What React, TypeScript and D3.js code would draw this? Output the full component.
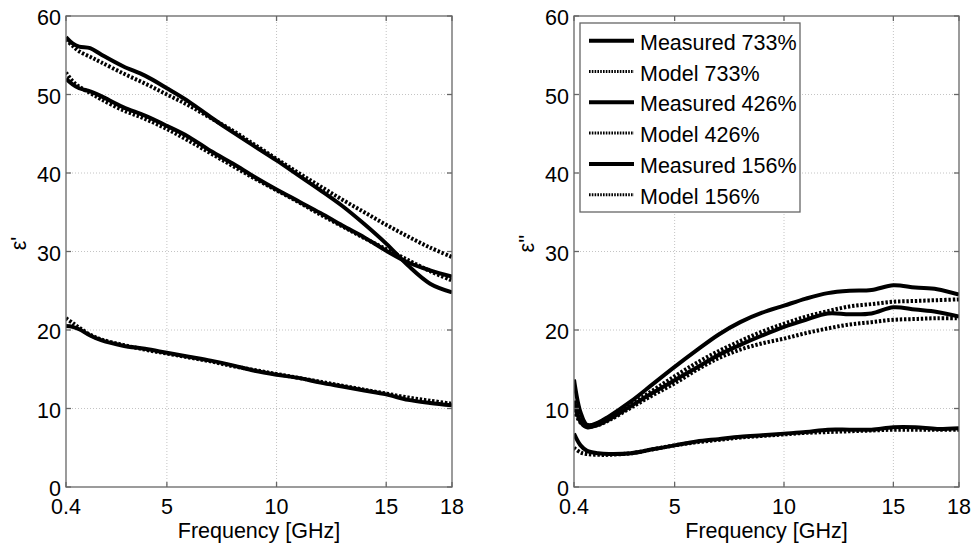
import React from 'react';
import * as d3 from 'd3';

const freqTicks = [0.4, 5, 10, 15, 18];
const yTicks = [0, 10, 20, 30, 40, 50, 60];
const freq = [0.4, 0.7, 1, 1.5, 2, 3, 4, 5, 6, 7, 8, 9, 10, 11, 12, 13, 14, 15, 16, 17, 18];

// ε' (real part)
const realMeas733 = [57.3, 56.5, 56.1, 55.9, 55.1, 53.6, 52.4, 50.8, 49.1, 47.1, 45.2, 43.4, 41.6, 39.7, 37.8, 35.8, 33.5, 31.0, 28.2, 25.9, 24.8];
const realModel733 = [57.0, 56.2, 55.5, 54.8, 54.1, 52.7, 51.4, 50.0, 48.6, 47.0, 45.4, 43.6, 41.8, 40.0, 38.3, 36.6, 35.0, 33.4, 31.9, 30.5, 29.3];
const realMeas426 = [52.0, 51.3, 50.8, 50.4, 49.8, 48.4, 47.3, 46.0, 44.6, 42.8, 41.2, 39.5, 37.9, 36.4, 34.9, 33.3, 31.8, 30.1, 28.6, 27.6, 26.8];
const realModel426 = [52.8, 51.7, 51.0, 50.2, 49.4, 48.0, 46.9, 45.6, 44.1, 42.5, 40.9, 39.3, 37.8, 36.3, 34.7, 33.2, 31.7, 30.3, 28.9, 27.5, 26.3];
const realMeas156 = [20.5, 20.4, 20.1, 19.3, 18.7, 18.0, 17.6, 17.1, 16.6, 16.1, 15.5, 14.8, 14.3, 13.9, 13.3, 12.8, 12.3, 11.8, 11.1, 10.7, 10.4];
const realModel156 = [21.5, 20.9, 20.3, 19.4, 18.8, 18.1, 17.5, 17.0, 16.5, 16.0, 15.4, 14.9, 14.4, 13.9, 13.4, 12.9, 12.4, 11.9, 11.4, 11.0, 10.6];

// ε'' (imaginary part)
const imagMeas733 = [13.7, 9.5, 7.9, 8.2, 9.0, 10.9, 13.1, 15.3, 17.4, 19.4, 21.0, 22.2, 23.1, 24.0, 24.7, 25.0, 25.1, 25.7, 25.4, 25.2, 24.5];
const imagModel733 = [10.6, 8.6, 7.9, 8.0, 8.7, 10.5, 12.3, 14.1, 15.8, 17.3, 18.6, 19.8, 20.8, 21.7, 22.4, 23.0, 23.3, 23.6, 23.7, 23.8, 23.9];
const imagMeas426 = [11.0, 8.3, 7.6, 7.9, 8.6, 10.3, 12.0, 13.6, 15.2, 16.8, 18.1, 19.3, 20.4, 21.3, 22.1, 22.0, 22.1, 22.9, 22.6, 22.3, 21.7];
const imagModel426 = [9.8, 8.2, 7.7, 7.9, 8.5, 10.1, 11.7, 13.2, 14.9, 16.4, 17.5, 18.3, 18.9, 19.6, 20.2, 20.7, 21.0, 21.3, 21.4, 21.5, 21.5];
const imagMeas156 = [6.8, 5.3, 4.6, 4.3, 4.2, 4.3, 4.8, 5.3, 5.8, 6.1, 6.4, 6.6, 6.8, 7.0, 7.3, 7.3, 7.3, 7.6, 7.6, 7.4, 7.5];
const imagModel156 = [5.0, 4.4, 4.2, 4.1, 4.1, 4.3, 4.8, 5.3, 5.7, 6.0, 6.3, 6.5, 6.7, 6.9, 7.0, 7.1, 7.2, 7.3, 7.3, 7.3, 7.3];

const legendLabels = ['Measured 733%', 'Model 733%', 'Measured 426%', 'Model 426%', 'Measured 156%', 'Model 156%'];

const FONT = '"Liberation Sans", Arial, Helvetica, sans-serif';
const FS = 21.5;
const AXIS = '#666';

type Series = { values: number[]; dotted: boolean };

function Panel({ x0, x1, y0, y1, ylabel, series, legend, id }: {
  x0: number; x1: number; y0: number; y1: number; ylabel: string; series: Series[]; legend: boolean; id: string;
}) {
  const x = d3.scaleLinear().domain([0.4, 18]).range([x0, x1]);
  const y = d3.scaleLinear().domain([0, 60]).range([y1, y0]);
  const line = d3.line<number>()
    .x((_, i) => x(freq[i]))
    .y((d) => y(d))
    .curve(d3.curveCatmullRom.alpha(0.5));
  const cx = (x0 + x1) / 2;
  const cy = (y0 + y1) / 2;
  const tl = 5;
  return (
    <g>
      <defs>
        <clipPath id={id}>
          <rect x={x0} y={y0} width={x1 - x0} height={y1 - y0} />
        </clipPath>
      </defs>
      <rect x={x0} y={y0} width={x1 - x0} height={y1 - y0} fill="#fff" />
      {freqTicks.slice(1, -1).map((t) => (
        <line key={'gx' + t} x1={x(t)} x2={x(t)} y1={y0} y2={y1} stroke="#c4c4c4" strokeWidth={1} strokeDasharray="1,2" />
      ))}
      {yTicks.slice(1, -1).map((t) => (
        <line key={'gy' + t} x1={x0} x2={x1} y1={y(t)} y2={y(t)} stroke="#c4c4c4" strokeWidth={1} strokeDasharray="1,2" />
      ))}
      <g clipPath={`url(#${id})`}>
        {series.map((s, i) => (
          <path key={i} d={line(s.values) || ''} fill="none" stroke="#000" strokeWidth={4}
            strokeDasharray={s.dotted ? '2.4,1.8' : undefined} strokeLinejoin="round" />
        ))}
      </g>
      <rect x={x0} y={y0} width={x1 - x0} height={y1 - y0} fill="none" stroke={AXIS} strokeWidth={1.3} />
      {freqTicks.map((t) => (
        <g key={'tx' + t}>
          <line x1={x(t)} x2={x(t)} y1={y1} y2={y1 - tl} stroke={AXIS} strokeWidth={1.3} />
          <line x1={x(t)} x2={x(t)} y1={y0} y2={y0 + tl} stroke={AXIS} strokeWidth={1.3} />
          <text x={x(t)} y={507} textAnchor="middle" dominantBaseline="central" fontFamily={FONT} fontSize={FS} fill="#000">{t}</text>
        </g>
      ))}
      {yTicks.map((t) => (
        <g key={'ty' + t}>
          <line x1={x0} x2={x0 + tl} y1={y(t)} y2={y(t)} stroke={AXIS} strokeWidth={1.3} />
          <line x1={x1} x2={x1 - tl} y1={y(t)} y2={y(t)} stroke={AXIS} strokeWidth={1.3} />
          <text x={x0 - 5} y={y(t) + 2} textAnchor="end" dominantBaseline="central" fontFamily={FONT} fontSize={FS} fill="#000">{t}</text>
        </g>
      ))}
      <text x={cx} y={531} textAnchor="middle" dominantBaseline="central" fontFamily={FONT} fontSize={FS} fill="#000">Frequency [GHz]</text>
      <text transform={`translate(${x0 - 47},${cy - 8}) rotate(-90)`} textAnchor="middle" dominantBaseline="central" fontFamily={FONT} fontSize={FS} fill="#000">{ylabel}</text>
      {legend && (
        <g>
          <rect x={x0 + 6} y={23} width={220} height={189} fill="#fff" stroke={AXIS} strokeWidth={1.3} />
          {legendLabels.map((lab, i) => {
            const ly = 40.7 + i * 30.8;
            const dotted = i % 2 === 1;
            return (
              <g key={lab}>
                <line x1={x0 + 15} x2={x0 + 60} y1={ly} y2={ly} stroke="#000" strokeWidth={dotted ? 3 : 4}
                  strokeDasharray={dotted ? '1.6,1.2' : undefined} />
                <text x={x0 + 66} y={ly + 2} dominantBaseline="central" fontFamily={FONT} fontSize={FS} fill="#000">{lab}</text>
              </g>
            );
          })}
        </g>
      )}
    </g>
  );
}

export default function App() {
  const left: Series[] = [
    { values: realMeas733, dotted: false },
    { values: realModel733, dotted: true },
    { values: realMeas426, dotted: false },
    { values: realModel426, dotted: true },
    { values: realMeas156, dotted: false },
    { values: realModel156, dotted: true },
  ];
  const right: Series[] = [
    { values: imagMeas733, dotted: false },
    { values: imagModel733, dotted: true },
    { values: imagMeas426, dotted: false },
    { values: imagModel426, dotted: true },
    { values: imagMeas156, dotted: false },
    { values: imagModel156, dotted: true },
  ];
  return (
    <svg width={974} height={547} style={{ position: 'absolute', left: 0, top: 0, background: '#fff' }}>
      <rect width={974} height={547} fill="#fff" />
      <Panel id="clipL" x0={66} x1={452} y0={16} y1={487} ylabel={"ε'"} series={left} legend={false} />
      <Panel id="clipR" x0={574} x1={959} y0={16} y1={487} ylabel={"ε''"} series={right} legend={true} />
    </svg>
  );
}
